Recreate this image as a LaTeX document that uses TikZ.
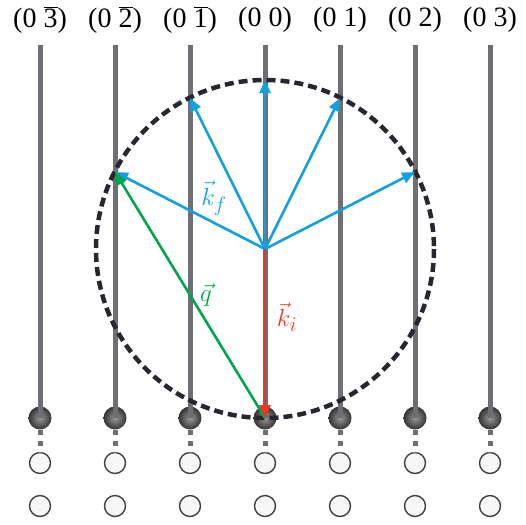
\documentclass[tikz,border=0pt]{standalone}
\usepackage{fontspec}
\setmainfont{Liberation Serif}
\usetikzlibrary{arrows.meta}
\definecolor{rodgray}{RGB}{110,111,116}
\definecolor{ewald}{RGB}{38,40,46}
\definecolor{kblue}{RGB}{20,160,222}
\definecolor{qgreen}{RGB}{0,165,80}
\definecolor{kred}{RGB}{238,52,36}
\newcommand{\barnum}[1]{$\overline{\mbox{#1}}$}

\begin{document}
\begin{tikzpicture}[
    x=1pt, y=-1pt,
    rod/.style={rodgray, line width=5pt},
    rodtail/.style={rodgray, line width=5pt, dash pattern=on 5pt off 6pt},
    atom/.style={circle, minimum size=23pt, inner sep=0pt, shading=radial, inner color=black!40, outer color=black!80},
    site/.style={circle, draw=black!75, line width=1.4pt, fill=black!3, minimum size=21pt, inner sep=0pt},
    order/.style={font=\fontsize{28}{30}\selectfont, inner sep=0pt},
    wave/.style={line width=2.6pt, -{Triangle[length=13pt,width=11pt]}},
    lab/.style={font=\fontsize{30}{32}\selectfont, inner sep=0pt}
]
\useasboundingbox (0,0) rectangle (526,524);

% rods, atoms and empty sites
\foreach \n/\lab [count=\c] in {-3/{(0 \barnum{3})}, -2/{(0 \barnum{2})}, -1/{(0 \barnum{1})},
                                0/{(0 0)}, 1/{(0 1)}, 2/{(0 2)}, 3/{(0 3)}} {
    \node[order] (l\c) at (265+75*\n, 20) {\lab};
    \coordinate (t\c) at (265+75*\n, 45);
    \node[atom] (a\c) at (265+75*\n, 418) {};
    \node[site] (s\c) at (265+75*\n, 463) {};
    \node[site] (u\c) at (265+75*\n, 506) {};
    \draw[rod] (t\c) -- (a\c.center);
    \draw[rodtail] (a\c.south) -- (s\c.north);
}

% Ewald circle
\coordinate (c) at (265,249);
\draw[ewald, line width=4.5pt, dash pattern=on 9pt off 5pt] (c) circle[radius=169];

% scattered wave vectors
\coordinate (e1) at (115,172);
\coordinate (e2) at (190,98);
\coordinate (e3) at (265,80);
\coordinate (e4) at (340,98);
\coordinate (e5) at (415,172);
\foreach \e in {e1,e2,e3,e4,e5}
    \draw[wave, kblue] (c) -- (\e);

\draw[wave, qgreen] (a4.center) -- (e1);
\draw[wave, kred] (c) -- (a4.center);

\node[lab, kblue] (kf) at (214,198) {$\vec{k}_{f}$};
\node[lab, qgreen] (q) at (206,295) {$\vec{q}$};
\node[lab, kred] (ki) at (287,317) {$\vec{k}_{i}$};
\end{tikzpicture}
\end{document}
